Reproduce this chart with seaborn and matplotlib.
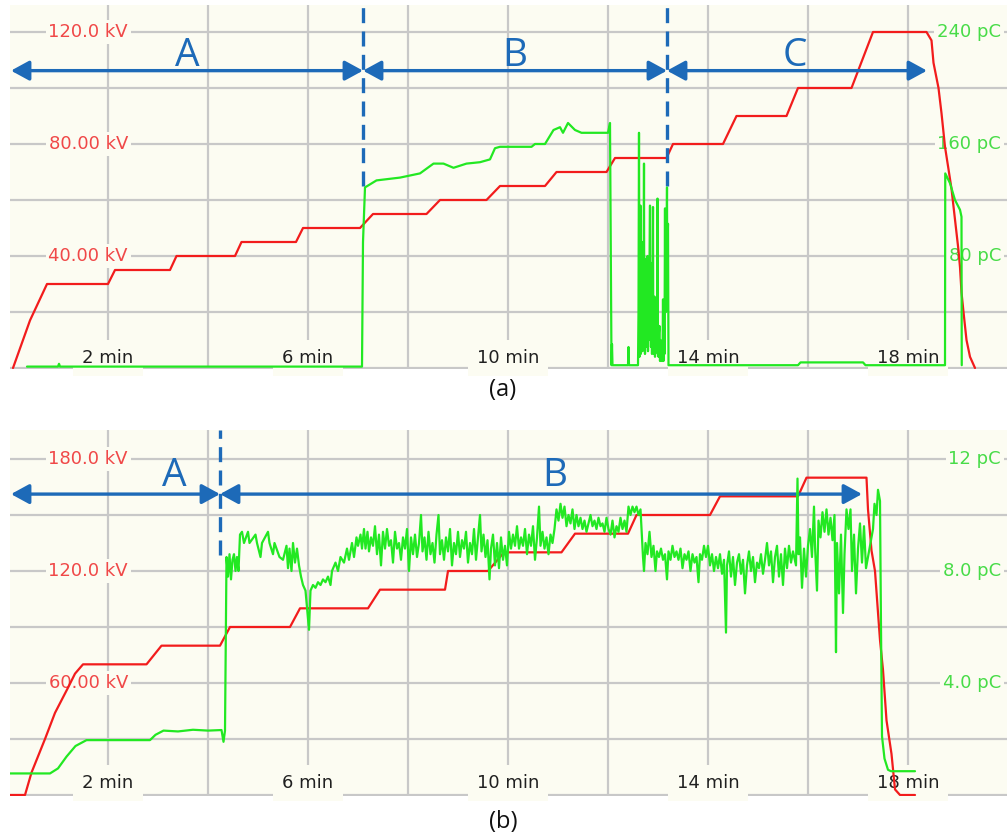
import numpy as np
import pandas as pd
import matplotlib
matplotlib.use("Agg")
import matplotlib.pyplot as plt
import matplotlib.transforms as mtransforms
from matplotlib.patches import FancyArrowPatch
import seaborn as sns

# ------------------------------------------------------------------ data
# time axis labels (min)
time_ticks = [2, 6, 10, 14, 18]
time_labels = ["2 min", "6 min", "10 min", "14 min", "18 min"]

# ---- panel (a): applied voltage (kV) and PD magnitude (pC)
a_volt_t = [0.10, 0.44, 0.78, 2.00, 2.14, 3.24, 3.37, 4.54, 4.67, 5.76, 5.90,
            7.04, 7.30, 8.37, 8.64, 9.57, 9.84, 10.74, 10.97, 11.97, 12.14,
            13.17, 13.30, 14.30, 14.57, 15.57, 15.80, 16.87, 17.30, 18.37,
            18.47, 18.51, 18.61, 18.67, 18.74, 18.81, 18.87, 18.94, 19.01,
            19.04, 19.07, 19.11, 19.17, 19.24, 19.34]
a_volt_kv = [0, 17, 30, 30, 35, 35, 40, 40, 45, 45, 50,
             50, 55, 55, 60, 60, 65, 65, 70, 70, 75,
             75, 80, 80, 90, 90, 100, 100, 120, 120,
             117, 109, 100, 91, 79, 71, 64, 53, 42,
             36, 27, 20, 10, 4, 0]

a_pd_points = [
    (0.38, 1), (1.00, 1), (1.02, 3), (1.04, 1), (7.08, 1), (7.10, 90),
    (7.14, 129), (7.37, 134), (7.84, 136), (8.24, 139), (8.51, 146),
    (8.71, 146), (8.91, 143), (9.17, 146), (9.44, 147), (9.64, 149),
    (9.74, 157), (9.84, 158), (10.47, 158), (10.54, 160), (10.74, 160),
    (10.91, 170), (11.04, 172), (11.10, 168), (11.20, 175), (11.34, 170),
    (11.47, 168), (12.00, 168), (12.04, 175), (12.07, 2), (12.08, 17),
    (12.09, 2), (12.40, 2), (12.41, 15), (12.42, 2), (12.60, 2), (12.61, 40),
    (12.62, 168), (12.63, 8), (12.64, 55), (12.65, 116), (12.655, 10),
    (12.66, 70), (12.67, 20), (12.68, 60), (12.69, 12), (12.70, 90),
    (12.71, 20), (12.72, 146), (12.725, 15), (12.73, 75), (12.74, 10),
    (12.75, 78), (12.76, 15), (12.77, 65), (12.78, 25), (12.79, 80),
    (12.80, 12), (12.81, 55), (12.82, 20), (12.83, 70), (12.84, 116),
    (12.845, 20), (12.85, 60), (12.86, 15), (12.87, 75), (12.88, 10),
    (12.89, 50), (12.90, 115), (12.905, 20), (12.91, 45), (12.92, 10),
    (12.93, 51), (12.94, 8), (12.95, 35), (12.96, 12), (12.97, 40),
    (12.98, 15), (12.99, 121), (12.995, 10), (13.00, 30), (13.01, 8),
    (13.02, 25), (13.03, 30), (13.04, 5), (13.05, 20), (13.06, 5),
    (13.08, 15), (13.09, 5), (13.10, 49), (13.11, 5), (13.12, 40),
    (13.13, 10), (13.14, 114), (13.145, 45), (13.15, 60), (13.16, 40),
    (13.17, 80), (13.18, 129), (13.185, 60), (13.19, 90), (13.20, 103),
    (13.21, 2), (15.80, 2), (15.85, 4), (17.10, 4), (17.15, 2), (18.74, 2),
    (18.745, 139), (18.84, 132), (18.94, 120), (19.04, 113), (19.07, 108),
    (19.075, 2),
]

a_kv_ticks = [40, 80, 120]
a_kv_labels = ["40.00 kV", "80.00 kV", "120.0 kV"]
a_pc_ticks = [80, 160, 240]
a_pc_labels = ["80 pC", "160 pC", "240 pC"]
a_phase_names = ["A", "B", "C"]
a_phase_edges = [0.06, 7.10, 13.18, 18.38]
a_phase_label_t = [3.58, 10.14, 15.74]

# ---- panel (b)
b_volt_t = [0.04, 0.34, 0.47, 0.74, 0.94, 1.21, 1.34, 1.50, 2.77, 3.07,
            4.24, 4.44, 5.64, 5.84, 7.20, 7.44, 8.74, 8.80, 9.60, 9.92,
            11.07, 11.34, 12.40, 12.57, 14.04, 14.24, 15.80, 15.97, 17.17,
            17.20, 17.27, 17.34, 17.41, 17.44, 17.50, 17.57, 17.67, 17.74,
            17.84, 18.14]
b_volt_kv = [0, 0, 12, 30, 44, 58, 65, 70, 70, 80,
             80, 90, 90, 100, 100, 110, 110, 120, 120, 130,
             130, 140, 140, 150, 150, 160, 160, 170, 170,
             153, 131, 120, 94, 83, 67, 40, 22, 3,
             0, 0]

b_pd_points = [
    (0.04, 0.77), (0.84, 0.77), (1.00, 0.95), (1.17, 1.37), (1.35, 1.75),
    (1.57, 1.96), (2.84, 1.96), (2.95, 2.15), (3.11, 2.30), (3.40, 2.27),
    (3.70, 2.33), (4.00, 2.30), (4.27, 2.32), (4.31, 1.90), (4.34, 2.30),
    (4.37, 8.5), (4.40, 7.8), (4.43, 8.6), (4.46, 7.7), (4.49, 8.4),
    (4.52, 8.6), (4.55, 8.0), (4.58, 8.5), (4.61, 8.0), (4.64, 9.3),
    (4.68, 9.4), (4.72, 9.0), (4.80, 9.4), (4.83, 9.0), (4.95, 9.3),
    (4.98, 9.0), (5.05, 8.5), (5.08, 9.0), (5.20, 9.4), (5.23, 9.0),
    (5.30, 8.6), (5.33, 9.0), (5.43, 8.5), (5.50, 8.4), (5.57, 8.9),
    (5.60, 8.1), (5.63, 8.8), (5.67, 8.0), (5.70, 9.0), (5.74, 8.3),
    (5.78, 8.8), (5.82, 8.2), (5.86, 7.8), (5.90, 7.5), (5.95, 7.3),
    (6.02, 5.9), (6.05, 7.3), (6.10, 7.5), (6.15, 7.4), (6.20, 7.6),
    (6.25, 7.5), (6.30, 7.7), (6.35, 7.6), (6.40, 7.8), (6.45, 7.5),
    (6.48, 8.0), (6.55, 8.3), (6.60, 8.0), (6.65, 8.5), (6.72, 8.3),
    (6.78, 8.8), (6.82, 8.4), (6.88, 9.0), (6.92, 8.5), (6.97, 9.2),
    (7.00, 8.9), (7.05, 9.3), (7.08, 8.8), (7.12, 9.5), (7.15, 8.8),
    (7.19, 9.4), (7.22, 8.7), (7.26, 9.2), (7.30, 8.9), (7.34, 9.6),
    (7.38, 8.6), (7.42, 9.3), (7.46, 8.2), (7.50, 9.4), (7.54, 8.8),
    (7.58, 9.5), (7.62, 8.9), (7.66, 9.1), (7.70, 8.3), (7.74, 9.4),
    (7.78, 8.8), (7.82, 9.0), (7.86, 8.4), (7.90, 9.2), (7.94, 8.8),
    (7.98, 9.5), (8.02, 8.0), (8.06, 9.2), (8.10, 8.6), (8.14, 9.3),
    (8.18, 8.5), (8.22, 9.0), (8.26, 10.0), (8.29, 8.7), (8.33, 9.2),
    (8.37, 8.4), (8.41, 9.4), (8.45, 8.6), (8.49, 9.0), (8.53, 8.3),
    (8.57, 9.3), (8.61, 10.0), (8.64, 8.6), (8.68, 9.1), (8.72, 8.4),
    (8.76, 9.2), (8.80, 8.7), (8.84, 9.5), (8.88, 8.2), (8.92, 9.0),
    (8.96, 8.6), (9.00, 9.4), (9.04, 8.5), (9.08, 9.1), (9.12, 8.8),
    (9.16, 9.4), (9.20, 8.3), (9.24, 9.0), (9.28, 8.6), (9.32, 9.5),
    (9.36, 8.4), (9.40, 9.2), (9.44, 10.0), (9.47, 8.7), (9.51, 9.3),
    (9.55, 8.5), (9.59, 9.1), (9.63, 7.7), (9.66, 8.8), (9.70, 9.3),
    (9.74, 8.2), (9.78, 9.0), (9.82, 8.1), (9.86, 9.2), (9.90, 8.4),
    (9.94, 8.9), (9.98, 8.2), (10.02, 9.4), (10.06, 8.8), (10.10, 9.3),
    (10.14, 8.9), (10.18, 9.6), (10.22, 8.8), (10.26, 9.2), (10.30, 8.9),
    (10.34, 9.5), (10.38, 8.6), (10.42, 9.3), (10.46, 8.9), (10.50, 9.6),
    (10.54, 8.4), (10.58, 9.2), (10.62, 10.3), (10.65, 8.9), (10.69, 9.4),
    (10.73, 8.8), (10.77, 9.2), (10.81, 8.6), (10.85, 9.3), (10.89, 9.0),
    (10.93, 9.5), (10.97, 10.2), (11.01, 9.8), (11.05, 10.4), (11.09, 9.9),
    (11.13, 10.3), (11.17, 9.6), (11.21, 10.0), (11.25, 9.7), (11.29, 10.2),
    (11.33, 9.5), (11.37, 10.0), (11.41, 9.6), (11.45, 9.9), (11.49, 9.5),
    (11.53, 9.8), (11.57, 9.4), (11.61, 9.7), (11.65, 10.0), (11.69, 9.6),
    (11.73, 9.8), (11.77, 9.5), (11.81, 9.9), (11.85, 9.6), (11.89, 9.7),
    (11.93, 9.4), (11.97, 9.9), (12.01, 9.5), (12.05, 9.3), (12.09, 9.8),
    (12.13, 9.2), (12.17, 9.6), (12.21, 9.4), (12.25, 9.9), (12.29, 9.5),
    (12.33, 9.8), (12.37, 9.4), (12.41, 10.3), (12.45, 10.0), (12.49, 10.3),
    (12.53, 10.1), (12.57, 10.3), (12.61, 10.0), (12.65, 10.2), (12.70, 8.5),
    (12.72, 8.0), (12.75, 9.0), (12.79, 8.6), (12.83, 9.4), (12.87, 8.5),
    (12.91, 8.9), (12.95, 8.0), (12.98, 8.7), (13.02, 8.5), (13.06, 8.8),
    (13.10, 8.4), (13.14, 8.6), (13.18, 7.7), (13.21, 8.7), (13.25, 8.4),
    (13.29, 8.9), (13.33, 8.5), (13.37, 8.7), (13.41, 8.4), (13.45, 8.8),
    (13.49, 8.1), (13.53, 8.6), (13.57, 8.4), (13.61, 8.7), (13.65, 8.0),
    (13.69, 8.6), (13.73, 8.3), (13.77, 8.5), (13.81, 7.6), (13.84, 8.6),
    (13.88, 8.4), (13.92, 8.9), (13.96, 8.5), (14.00, 8.9), (14.04, 8.2),
    (14.08, 8.6), (14.12, 8.0), (14.16, 8.5), (14.20, 8.1), (14.24, 8.6),
    (14.28, 7.9), (14.32, 8.4), (14.36, 5.8), (14.38, 8.2), (14.42, 8.7),
    (14.46, 7.8), (14.50, 8.5), (14.54, 7.5), (14.58, 8.3), (14.62, 8.6),
    (14.66, 7.9), (14.70, 8.4), (14.74, 7.2), (14.78, 8.2), (14.82, 8.7),
    (14.86, 8.0), (14.90, 8.5), (14.94, 7.6), (14.98, 8.3), (15.02, 8.1),
    (15.06, 8.6), (15.10, 7.9), (15.14, 8.4), (15.18, 9.0), (15.22, 8.2),
    (15.26, 8.7), (15.30, 7.6), (15.34, 8.5), (15.38, 8.9), (15.42, 7.8),
    (15.46, 8.6), (15.50, 7.5), (15.54, 8.8), (15.58, 8.1), (15.62, 8.9),
    (15.66, 8.3), (15.70, 8.7), (15.76, 8.2), (15.79, 11.3), (15.81, 8.6),
    (15.84, 9.2), (15.88, 7.4), (15.92, 8.8), (15.96, 7.8), (16.00, 8.9),
    (16.04, 9.5), (16.08, 8.5), (16.12, 10.3), (16.14, 8.9), (16.18, 7.3),
    (16.21, 9.8), (16.25, 9.2), (16.29, 10.1), (16.33, 9.4), (16.37, 10.2),
    (16.41, 9.3), (16.45, 9.9), (16.49, 9.1), (16.53, 10.0), (16.56, 5.1),
    (16.58, 9.0), (16.62, 7.2), (16.66, 9.3), (16.70, 6.5), (16.73, 8.6),
    (16.77, 10.2), (16.81, 9.5), (16.85, 10.2), (16.88, 8.0), (16.92, 9.3),
    (16.96, 7.2), (17.00, 8.8), (17.04, 9.7), (17.08, 8.3), (17.12, 9.6),
    (17.16, 8.1), (17.30, 9.5), (17.33, 10.4), (17.37, 10.0), (17.40, 10.9),
    (17.44, 10.5), (17.46, 6.0), (17.48, 2.1), (17.53, 1.3), (17.60, 0.9),
    (17.66, 0.85), (18.14, 0.85),
]

b_kv_ticks = [60, 120, 180]
b_kv_labels = ["60.00 kV", "120.0 kV", "180.0 kV"]
b_pc_ticks = [4, 8, 12]
b_pc_labels = ["4.0 pC", "8.0 pC", "12 pC"]
b_phase_names = ["A", "B"]
b_phase_edges = [0.06, 4.24, 17.08]
b_phase_label_t = [3.32, 10.94]

# ------------------------------------------------------------------ style
W, H = 1007, 836
BG = "#fcfcf2"
GRID = "#c8c8c8"
RED = "#f21c1c"
GREEN = "#22e822"
RED_TXT = "#f04848"
GREEN_TXT = "#48dc48"
BLUE = "#1d6ab8"
X0, X1 = 0.04, 19.98

sns.set_theme(style="white")
plt.rcParams["font.family"] = ["DejaVu Sans"]

fig = plt.figure(figsize=(W / 100, H / 100), dpi=100)
fig.patch.set_facecolor("white")


def panel(top_px, bot_px, kv_per_px, pc_factor, kv_grid_step,
          volt_t, volt_kv, pd_points, kv_ticks, kv_labels, pc_ticks, pc_labels,
          names, edges, label_t, arrow_kv, letter_kv, dash_frac, xlab_frac):
    ax = fig.add_axes([10 / W, 1 - bot_px / H, (W - 10) / W, (bot_px - top_px) / H])
    zero_px = bot_px - 1
    ylo = -(bot_px - zero_px) * kv_per_px
    yhi = (zero_px - top_px) * kv_per_px
    ax.set_facecolor(BG)
    ax.set_xlim(X0, X1)
    ax.set_ylim(ylo, yhi)
    ax.set_xticks(np.arange(0, 20, 2))
    ax.set_yticks(np.arange(0, yhi, kv_grid_step))
    ax.tick_params(length=0, labelbottom=False, labelleft=False)
    ax.grid(True, color=GRID, lw=1.6)
    ax.set_axisbelow(True)
    for s in ax.spines.values():
        s.set_visible(False)

    ax2 = ax.twinx()
    ax2.set_ylim(ylo * pc_factor, yhi * pc_factor)
    ax2.set_xlim(X0, X1)

    vdf = pd.DataFrame({"t": volt_t, "kv": volt_kv})
    pdf = pd.DataFrame(pd_points, columns=["t", "pc"])
    sns.lineplot(data=vdf, x="t", y="kv", ax=ax, color=RED, lw=1.6,
                 sort=False, estimator=None, zorder=3)
    sns.lineplot(data=pdf, x="t", y="pc", ax=ax2, color=GREEN, lw=1.6,
                 sort=False, estimator=None, zorder=3)
    ax.set_xlabel("")
    ax.set_ylabel("")
    ax2.set_axis_off()

    # in-plot tick labels
    tr_left = mtransforms.blended_transform_factory(ax.transAxes, ax.transData)
    tr_right = mtransforms.blended_transform_factory(ax.transAxes, ax2.transData)
    tr_bot = mtransforms.blended_transform_factory(ax.transData, ax.transAxes)
    for v, lab in zip(kv_ticks, kv_labels):
        ax.text((128 - 10) / (W - 10), v, lab, transform=tr_left, ha="right",
                va="center", fontsize=13, color=RED_TXT, zorder=2,
                bbox=dict(boxstyle="square,pad=0.15", fc=BG, ec="none"))
    for v, lab in zip(pc_ticks, pc_labels):
        ax.text((1001 - 10) / (W - 10), v, lab, transform=tr_right, ha="right",
                va="center", fontsize=13, color=GREEN_TXT, zorder=2,
                bbox=dict(boxstyle="square,pad=0.15", fc=BG, ec="none"))
    for v, lab in zip(time_ticks, time_labels):
        ax.text(v, xlab_frac, lab, transform=tr_bot, ha="center", va="center",
                fontsize=13, color="#202020", zorder=2,
                bbox=dict(boxstyle="square,pad=0.5", fc=BG, ec="none"))

    # phase arrows, dashed boundaries and letters
    for i, name in enumerate(names):
        arr = FancyArrowPatch((edges[i], arrow_kv), (edges[i + 1], arrow_kv),
                              arrowstyle="<|-|>,head_length=0.55,head_width=0.3",
                              mutation_scale=20, lw=2.4, color=BLUE,
                              shrinkA=0, shrinkB=0, zorder=5)
        ax.add_patch(arr)
        ax.text(label_t[i], letter_kv, name, ha="center", va="baseline",
                fontsize=28, color=BLUE, family="Open Sans", zorder=5)
    for e in edges[1:-1]:
        ax.axvline(e, ymin=dash_frac, ymax=1, color=BLUE, lw=2.4,
                   ls=(0, (4.5, 2.5)), zorder=5)
    return ax


# panel (a): 0 kV at y=368, 20 kV per 56 px; pC = 2 * kV
panel(5, 369, 20 / 56, 2.0, 20, a_volt_t, a_volt_kv, a_pd_points,
      a_kv_ticks, a_kv_labels, a_pc_ticks, a_pc_labels,
      a_phase_names, a_phase_edges, a_phase_label_t,
      arrow_kv=106.2, letter_kv=107.9, dash_frac=(369 - 186) / 364,
      xlab_frac=(369 - 358) / 364)

# panel (b): 0 kV at y=795, 30 kV per 56 px; pC = kV / 15
panel(430, 796, 30 / 56, 1 / 15, 30, b_volt_t, b_volt_kv, b_pd_points,
      b_kv_ticks, b_kv_labels, b_pc_ticks, b_pc_labels,
      b_phase_names, b_phase_edges, b_phase_label_t,
      arrow_kv=161.2, letter_kv=165.5, dash_frac=(796 - 555) / 366,
      xlab_frac=(796 - 783) / 366)

fig.text(503 / W, 1 - 390 / H, "(a)", ha="center", va="center", fontsize=17,
         family="Open Sans", color="#111111")
fig.text(503 / W, 1 - 822 / H, "(b)", ha="center", va="center", fontsize=17,
         family="Open Sans", color="#111111")

fig.savefig("out.png", dpi=100, facecolor="white")
